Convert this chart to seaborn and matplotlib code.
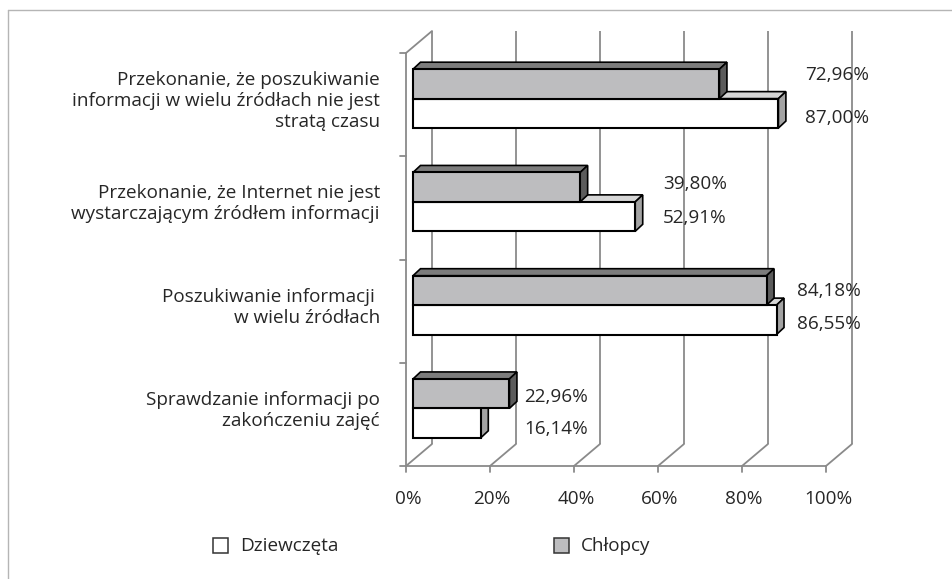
import matplotlib
matplotlib.use("Agg")
import matplotlib.pyplot as plt
from matplotlib.patches import Polygon, Rectangle
from matplotlib.lines import Line2D
import seaborn as sns
import pandas as pd

# ---- data ----
categories = [
    "Przekonanie, że poszukiwanie\ninformacji w wielu źródłach nie jest\nstratą czasu",
    "Przekonanie, że Internet nie jest\nwystarczającym źródłem informacji",
    "Poszukiwanie informacji \nw wielu źródłach",
    "Sprawdzanie informacji po\nzakończeniu zajęć",
]
series_names = ["Dziewczęta", "Chłopcy"]
dziewczeta = [87.00, 52.91, 86.55, 16.14]
chlopcy = [72.96, 39.80, 84.18, 22.96]
x_ticks = [0, 20, 40, 60, 80, 100]
x_tick_labels = ["0%", "20%", "40%", "60%", "80%", "100%"]

# label anchor positions (x in %, per category)
label_x = [95.0, 61.2, 93.1, 28.1]

df = pd.DataFrame({
    "Kategoria": categories * 2,
    "Płeć": [series_names[0]] * 4 + [series_names[1]] * 4,
    "Wartość": dziewczeta + chlopcy,
})

sns.set_theme(style="white")
plt.rcParams["font.family"] = ["Open Sans", "DejaVu Sans"]
TXT = "#262626"
FS = 13.6

W, H = 953, 579
fig = plt.figure(figsize=(W / 100, H / 100), dpi=100)
# front plane: 0% at x=406px, 100% at 826px; top y=53px, bottom y=466px
ax = fig.add_axes([406 / W, (H - 466) / H, 420 / W, 413 / H])

palette = {"Dziewczęta": "#ffffff", "Chłopcy": "#bdbdbf"}
sns.barplot(data=df, y="Kategoria", x="Wartość", hue="Płeć",
            order=categories, hue_order=["Chłopcy", "Dziewczęta"],
            palette=palette, width=0.57, edgecolor="black", linewidth=1.5,
            orient="h", legend=False, ax=ax)
ax.set_xlim(0, 100)
ax.set_ylim(3.5, -0.5)
ax.axis("off")

PXX = 420 / 100.0   # px per % unit
PXY = 413 / 4.0     # px per category unit


def off(dx_px, dy_up_px):
    return dx_px / PXX, -dy_up_px / PXY


BX, BY = off(7, 6)        # bar plane offset
DX, DY = off(7.5, 7)      # bar depth
GX, GY = off(26, 22)      # back wall offset
GRID = "#8a8a8a"
LW = 1.3

# ---- walls / gridlines ----
for t, lab in zip(x_ticks, x_tick_labels):
    ax.plot([t + GX, t + GX], [3.5 + GY, -0.5 + GY], color=GRID, lw=LW,
            clip_on=False, zorder=1, solid_capstyle="butt")
    ax.plot([t, t + GX], [3.5, 3.5 + GY], color=GRID, lw=LW, clip_on=False, zorder=1)
    ax.plot([t, t], [3.5, 3.5 + 6 / PXY], color=GRID, lw=LW, clip_on=False, zorder=1)
    ax.text(t + 2 / PXX, 3.5 + 33 / PXY, lab,
            ha="center", va="center", fontsize=FS, color=TXT)
ax.plot([0, 100], [3.5, 3.5], color=GRID, lw=LW, clip_on=False, zorder=1)
ax.plot([0, 0], [3.5, -0.5], color=GRID, lw=LW, clip_on=False, zorder=1)
ax.plot([0, GX], [-0.5, -0.5 + GY], color=GRID, lw=LW, clip_on=False, zorder=1)
for b in [-0.5, 0.5, 1.5, 2.5, 3.5]:
    ax.plot([0, -6 / PXX], [b, b], color=GRID, lw=LW, clip_on=False, zorder=1)

# ---- 3D bars built from seaborn's patches ----
face_cols = {
    "white": ("#d6d6d6", "#a3a3a3"),
    "gray": ("#7c7c7c", "#5c5c5c"),
}
for p in list(ax.patches):
    x0, y0, w, h = p.get_x(), p.get_y(), p.get_width(), p.get_height()
    if w <= 0:
        continue
    x0 += BX
    y0 += BY
    p.set_x(x0)
    p.set_y(y0)
    fc = p.get_facecolor()
    kind = "white" if fc[0] > 0.9 else "gray"
    top_c, side_c = face_cols[kind]
    z = 3 + (3.5 - (y0 + h / 2))
    p.set_zorder(z)
    p.set_clip_on(False)
    top = Polygon([(x0, y0), (x0 + w, y0), (x0 + w + DX, y0 + DY), (x0 + DX, y0 + DY)],
                  closed=True, facecolor=top_c, edgecolor="black", lw=1.2,
                  zorder=z - 0.1, clip_on=False, joinstyle="miter")
    side = Polygon([(x0 + w, y0), (x0 + w, y0 + h), (x0 + w + DX, y0 + h + DY), (x0 + w + DX, y0 + DY)],
                   closed=True, facecolor=side_c, edgecolor="black", lw=1.2,
                   zorder=z - 0.05, clip_on=False, joinstyle="miter")
    ax.add_patch(top)
    ax.add_patch(side)

# ---- category labels ----
for i, c in enumerate(categories):
    ax.text(-26 / PXX, i - 4 / PXY, c, ha="right", va="center", multialignment="right",
            fontsize=FS, color=TXT, linespacing=1.22)

# ---- value labels ----
gray_off = [-30, -24, -20, -17]
white_off = [13, 10, 13, 15]
for i in range(len(categories)):
    ax.text(label_x[i], i + gray_off[i] / PXY, f"{chlopcy[i]:.2f}%".replace(".", ","),
            ha="left", va="center", fontsize=FS, color=TXT, zorder=20)
    ax.text(label_x[i], i + white_off[i] / PXY, f"{dziewczeta[i]:.2f}%".replace(".", ","),
            ha="left", va="center", fontsize=FS, color=TXT, zorder=20)

# ---- legend ----
def fx(px):
    return px / W


def fy(py):
    return (H - py) / H


for sx, name in [(213, "Dziewczęta"), (554, "Chłopcy")]:
    fig.add_artist(Rectangle((fx(sx), fy(553)), 15 / W, 15 / H, transform=fig.transFigure,
                             facecolor=palette[name], edgecolor="#333333", lw=1.1))
    fig.text(fx(sx + 27), fy(546), name, ha="left", va="center", fontsize=FS, color=TXT)

# ---- outer border (partially cropped) ----
fig.add_artist(Line2D([fx(8), 1], [fy(10), fy(10)], transform=fig.transFigure,
                      color="#b5b5b5", lw=1.0))
fig.add_artist(Line2D([fx(8), fx(8)], [fy(10), 0], transform=fig.transFigure,
                      color="#b5b5b5", lw=1.0))

fig.savefig("out.png", dpi=100)
